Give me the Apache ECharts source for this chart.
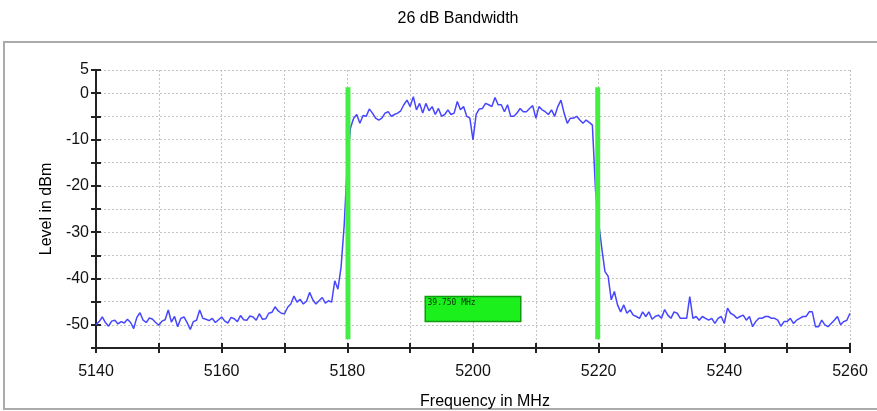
<!DOCTYPE html>
<html>
<head>
<meta charset="utf-8">
<script src="https://cdn.jsdelivr.net/npm/echarts@6/dist/echarts.min.js"></script>
<style>
  html, body { margin: 0; padding: 0; background: #fff; }
  #chart { width: 877px; height: 411px; }
</style>
</head>
<body>
<div id="chart"></div>
<script>
// Spectrum sweep: 5140 .. 5260 MHz, one reading every 0.5 MHz
const chartTitle = '26 dB Bandwidth';
const sweepStartMHz = 5140;
const sweepStepMHz = 0.5;

// Measured level (dBm), one row per 10 MHz
const levels = [
  -50.0, -49.3, -48.3, -49.5, -50.3, -49.2, -49.0, -49.8, -49.3, -49.6, -48.8, -49.5, -50.8, -48.4, -47.4, -49.0, -49.5, -48.5, -48.8, -49.5,
  -50.1, -49.2, -48.9, -46.8, -49.4, -48.2, -50.4, -48.6, -48.3, -49.5, -51.0, -49.3, -49.0, -46.8, -48.6, -48.8, -49.1, -48.6, -49.5, -48.9,
  -48.3, -49.2, -49.6, -48.4, -48.7, -49.3, -48.0, -48.9, -49.0, -48.1, -48.3, -49.0, -47.6, -48.8, -48.7, -47.5, -47.3, -46.1, -47.0, -47.5,
  -47.6, -46.2, -45.5, -43.8, -45.1, -44.5, -45.5, -44.9, -43.0, -44.6, -45.5, -44.8, -44.1, -45.3, -44.8, -45.1, -40.5, -42.3, -37.6, -28.5,
  -15.0, -7.5, -5.4, -4.6, -6.5, -4.8, -5.0, -3.4, -4.3, -5.4, -5.8, -5.4, -4.3, -4.0, -5.0, -4.6, -4.3, -3.8, -2.5, -1.5,
  -2.9, -0.75, -3.6, -2.2, -4.3, -2.2, -3.8, -2.9, -4.6, -3.3, -5.0, -4.6, -3.6, -4.6, -4.3, -1.8, -3.6, -2.9, -5.0, -5.4,
  -10.1, -4.6, -3.4, -3.3, -2.2, -2.5, -2.9, -0.95, -2.5, -2.5, -4.0, -2.5, -5.0, -5.0, -4.3, -3.3, -4.0, -4.0, -3.3, -2.7,
  -5.4, -2.9, -3.6, -4.0, -4.6, -3.6, -5.0, -2.9, -1.5, -4.3, -6.5, -5.4, -5.4, -5.0, -5.8, -6.5, -5.8, -6.3, -6.9, -21.0,
  -28.0, -33.5, -38.5, -39.5, -44.6, -42.8, -45.7, -47.2, -45.7, -47.5, -46.8, -47.9, -48.2, -48.6, -47.2, -48.2, -47.2, -48.8, -48.2, -47.9,
  -48.6, -46.7, -47.9, -48.6, -47.2, -47.5, -48.6, -48.6, -48.6, -43.9, -48.6, -48.2, -49.0, -48.2, -48.6, -49.0, -48.6, -49.7, -48.6, -48.2,
  -49.7, -46.4, -47.5, -47.9, -48.6, -48.2, -47.9, -49.0, -48.2, -50.4, -49.3, -48.6, -48.6, -48.2, -48.2, -48.6, -48.6, -49.0, -50.3, -49.3,
  -49.3, -48.6, -49.7, -49.0, -48.6, -48.2, -48.2, -47.2, -47.2, -50.4, -50.4, -49.0, -50.0, -50.4, -49.7, -49.0, -48.2, -50.0, -49.3, -49.0,
  -47.5
];

// Bandwidth markers (MHz) and their drawn extent (dBm)
const markerLowMHz = 5180.1;
const markerHighMHz = 5219.85;
const markerTopDbm = 1.3;
const markerBottomDbm = -53.1;

// Readout box corners [MHz, dBm]
const readoutFromMHz = 5192.4;
const readoutToMHz = 5207.6;
const readoutTopDbm = -43.9;
const readoutBottomDbm = -49.3;

// Axis ranges and labelled ticks
const freqMin = 5140, freqMax = 5260, freqTickStep = 10;
const levelMin = -55, levelMax = 5, levelTickStep = 5;
const freqLabels = [5140, 5160, 5180, 5200, 5220, 5240, 5260];
const levelLabels = [5, 0, -10, -20, -30, -40, -50];

const trace = levels.map((v, i) => [sweepStartMHz + i * sweepStepMHz, v]);
const bandwidthText = (markerHighMHz - markerLowMHz).toFixed(3) + ' MHz';

const labelFont = 'Liberation Sans, Arial, sans-serif';
const gridLine = { show: true, lineStyle: { color: '#c4c4c4', type: [2, 2], width: 1 } };
const axisInk = '#222';

const chart = echarts.init(document.getElementById('chart'), null, { renderer: 'canvas' });

const baseX = {
  type: 'value', min: freqMin, max: freqMax, interval: freqTickStep,
  position: 'bottom', offset: 0
};
const baseY = {
  type: 'value', min: levelMin, max: levelMax, interval: levelTickStep,
  position: 'left', offset: 0
};

chart.setOption({
  animation: false,
  backgroundColor: '#fff',
  title: {
    text: chartTitle,
    left: 453, top: 6, textAlign: 'center',
    textStyle: { fontFamily: labelFont, fontSize: 16, fontWeight: 'normal', color: '#000' }
  },
  graphic: [{
    type: 'rect', z: -10, silent: true,
    shape: { x: 4, y: 42, width: 890, height: 367 },
    style: { fill: 'none', stroke: '#ababab', lineWidth: 2 }
  }],
  grid: { left: 96, right: 27, top: 70, bottom: 63, containLabel: false, outerBoundsMode: 'none' },
  xAxis: [
    Object.assign({}, baseX, {
      name: 'Frequency in MHz', nameLocation: 'middle', nameGap: 46,
      nameTextStyle: { fontFamily: labelFont, fontSize: 16, color: '#000', padding: [0, 0, 0, 24] },
      axisLine: { show: true, onZero: false, lineStyle: { color: axisInk, width: 2 } },
      axisTick: { show: true, length: 5, lineStyle: { color: axisInk, width: 2 } },
      axisLabel: {
        fontFamily: labelFont, fontSize: 16, color: '#111', margin: 16,
        formatter: v => freqLabels.includes(v) ? String(v) : ''
      },
      splitLine: gridLine
    }),
    Object.assign({}, baseX, {
      axisLine: { show: false, onZero: false },
      axisTick: { show: true, inside: true, length: 5, lineStyle: { color: axisInk, width: 2 } },
      axisLabel: { show: false }, splitLine: { show: false }
    })
  ],
  yAxis: [
    Object.assign({}, baseY, {
      name: 'Level in dBm', nameLocation: 'middle', nameGap: 40,
      nameTextStyle: { fontFamily: labelFont, fontSize: 16, color: '#000' },
      axisLine: { show: true, onZero: false, lineStyle: { color: axisInk, width: 2 } },
      axisTick: { show: true, length: 5, lineStyle: { color: axisInk, width: 2 } },
      axisLabel: {
        fontFamily: labelFont, fontSize: 16, color: '#111', margin: 7,
        formatter: v => levelLabels.includes(v) ? String(v) : ''
      },
      splitLine: gridLine
    }),
    Object.assign({}, baseY, {
      axisLine: { show: false, onZero: false },
      axisTick: { show: true, inside: true, length: 5, lineStyle: { color: axisInk, width: 2 } },
      axisLabel: { show: false }, splitLine: { show: false }
    })
  ],
  series: [
    {
      name: 'Level', type: 'line', data: trace, showSymbol: false, z: 3,
      lineStyle: { color: '#4646ff', width: 1.5 },
      markArea: {
        silent: true,
        itemStyle: { color: '#1cf01c', borderColor: '#0f9a0f', borderWidth: 1.5 },
        label: {
          show: true, position: 'insideTopLeft', distance: 3,
          fontFamily: 'DejaVu Sans Mono, monospace', fontSize: 8, color: '#063006'
        },
        data: [[
          { name: bandwidthText, coord: [readoutFromMHz, readoutTopDbm] },
          { coord: [readoutToMHz, readoutBottomDbm] }
        ]]
      }
    },
    {
      name: 'Lower marker', type: 'line', showSymbol: false, z: 5,
      data: [[markerLowMHz, markerTopDbm], [markerLowMHz, markerBottomDbm]],
      lineStyle: { color: '#44ee44', width: 5, cap: 'butt' }
    },
    {
      name: 'Upper marker', type: 'line', showSymbol: false, z: 5,
      data: [[markerHighMHz, markerTopDbm], [markerHighMHz, markerBottomDbm]],
      lineStyle: { color: '#44ee44', width: 5, cap: 'butt' }
    }
  ]
});
</script>
</body>
</html>
